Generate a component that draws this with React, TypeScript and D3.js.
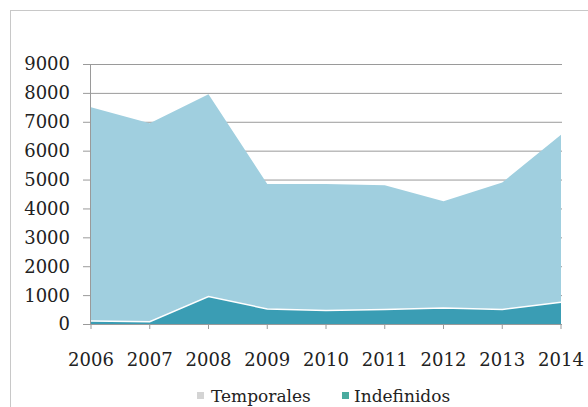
import React from "react";
import * as d3 from "d3";

const years = [2006, 2007, 2008, 2009, 2010, 2011, 2012, 2013, 2014];
const temporales = [7500, 6950, 7950, 4850, 4850, 4800, 4250, 4900, 6550];
const indefinidos = [100, 80, 950, 520, 470, 500, 550, 500, 750];
const yTicks = [0, 1000, 2000, 3000, 4000, 5000, 6000, 7000, 8000, 9000];
const seriesNames = ["Temporales", "Indefinidos"];

const W = 588, H = 407;
const left = 91, right = 561, top = 64, bottom = 324;
const font = "DejaVu Serif";

export default function App() {
  const x = d3.scaleLinear().domain([2006, 2014]).range([left, right]);
  const y = d3.scaleLinear().domain([0, 9000]).range([bottom, top]);
  const area = d3.area<number>()
    .x((_, i) => x(years[i]))
    .y0(y(0))
    .y1((d) => y(d));
  const line = d3.line<number>()
    .x((_, i) => x(years[i]))
    .y((d) => y(d));
  return (
    <svg width={W} height={H} style={{ position: "absolute", left: 0, top: 0 }}>
      <rect x={0} y={0} width={W} height={H} fill="#fff" />
      <rect x={10.5} y={10.5} width={W} height={H} fill="none" stroke="#c8c8c8" strokeWidth={1} />
      {yTicks.map((t) => (
        <g key={t}>
          <line x1={83} x2={562} y1={y(t) + 0.5} y2={y(t) + 0.5} stroke="#9a9a9a" strokeWidth={1} />
          <text x={70} y={y(t)} dy="0.36em" textAnchor="end" style={{ fontFamily: font }} fontSize={18} fill="#222">{t}</text>
        </g>
      ))}
      <path d={area(temporales) || ""} fill="#a0cfdf" />
      <path d={area(indefinidos) || ""} fill="#3a9db4" />
      <path d={line(indefinidos) || ""} fill="none" stroke="#fff" strokeWidth={1.5} />
      <line x1={90.5} x2={90.5} y1={top} y2={bottom} stroke="#9a9a9a" />
      <line x1={83} x2={562} y1={bottom + 0.5} y2={bottom + 0.5} stroke="#9a9a9a" />
      {years.map((yr) => (
        <g key={yr}>
          <line x1={x(yr)} x2={x(yr)} y1={bottom} y2={bottom + 5} stroke="#9a9a9a" />
          <text x={x(yr)} y={360} dy="0.36em" textAnchor="middle" style={{ fontFamily: font }} fontSize={18} fill="#222">{yr}</text>
        </g>
      ))}
      <g>
        <rect x={197} y={392} width={7} height={7} fill="#d4d4d4" />
        <text x={211} y={396} dy="0.36em" style={{ fontFamily: font }} fontSize={17} fill="#222">{seriesNames[0]}</text>
        <rect x={342} y={392} width={7} height={7} fill="#4aab9f" />
        <text x={354} y={396} dy="0.36em" style={{ fontFamily: font }} fontSize={17} fill="#222">{seriesNames[1]}</text>
      </g>
    </svg>
  );
}
